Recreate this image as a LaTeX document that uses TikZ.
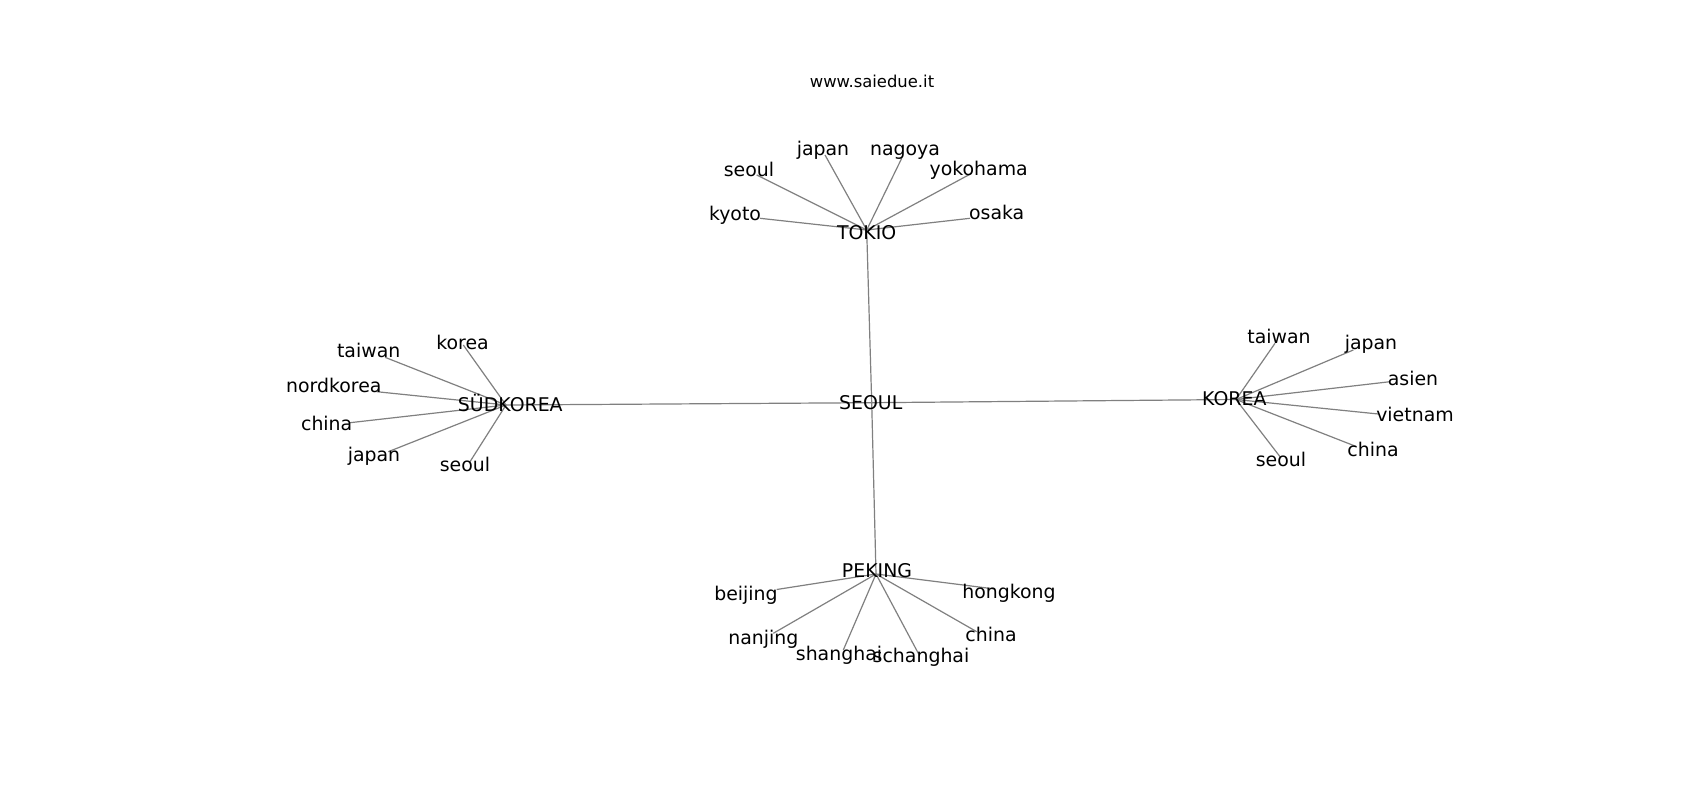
\documentclass[tikz,border=0pt]{standalone}
\usepackage{fontspec}
\setmainfont{DejaVu Sans}
\definecolor{edgegray}{RGB}{128,128,128}
\begin{document}
\begin{tikzpicture}[x=1pt,y=-1pt,
  lbl/.style={anchor=base,inner sep=0pt,font=\fontsize{18.9}{20}\selectfont},
  ttl/.style={anchor=base,inner sep=0pt,font=\fontsize{16.4}{18}\selectfont},
  edge/.style={draw=edgegray,line width=1.2pt}]
\useasboundingbox[fill=white] (0,0) rectangle (1700,800);
% hubs
\coordinate (T) at (866.7,230);
\coordinate (S) at (871.7,402.7);
\coordinate (D) at (506,405);
\coordinate (K) at (1236,399.5);
\coordinate (P) at (876,574);
% leaf edge ends
\coordinate (T1) at (756.7,175);
\coordinate (T2) at (825,155);
\coordinate (T3) at (901.7,158.3);
\coordinate (T4) at (971.7,173.3);
\coordinate (T5) at (760,218.3);
\coordinate (T6) at (970,218.3);
\coordinate (D1) at (463.3,345);
\coordinate (D2) at (385,357.3);
\coordinate (D3) at (376.7,391.7);
\coordinate (D4) at (350,422.7);
\coordinate (D5) at (388.3,451.7);
\coordinate (D6) at (470,461.7);
\coordinate (K1) at (1275,343.3);
\coordinate (K2) at (1353.3,350);
\coordinate (K3) at (1390,381.7);
\coordinate (K4) at (1378.3,414);
\coordinate (K5) at (1356.7,446.7);
\coordinate (K6) at (1280,456.7);
\coordinate (P1) at (776.7,589.5);
\coordinate (P2) at (995,589);
\coordinate (P3) at (773.3,633.3);
\coordinate (P4) at (976.7,631.7);
\coordinate (P5) at (843.3,650);
\coordinate (P6) at (918.3,653.3);
% edges
\draw[edge] (T) -- (S);
\draw[edge] (S) -- (P);
\draw[edge] (S) -- (D);
\draw[edge] (S) -- (K);
\foreach \i in {1,...,6} {
  \draw[edge] (T) -- (T\i);
  \draw[edge] (D) -- (D\i);
  \draw[edge] (K) -- (K\i);
  \draw[edge] (P) -- (P\i);
}
% labels
\node[ttl] (title) at (872,87.3) {www.saiedue.it};
\node[lbl] (tokio) at (866.7,239.5) {TOKIO};
\node[lbl] (seoulhub) at (870.7,409.3) {SEOUL};
\node[lbl] (suedkorea) at (510.3,411.7) {SÜDKOREA};
\node[lbl] (korea) at (1234.3,405) {KOREA};
\node[lbl] (peking) at (877,577.7) {PEKING};
\node[lbl] (t1) at (749,176) {seoul};
\node[lbl] (t2) at (823,155) {japan};
\node[lbl] (t3) at (905,155) {nagoya};
\node[lbl] (t4) at (978.7,175) {yokohama};
\node[lbl] (t5) at (735,220) {kyoto};
\node[lbl] (t6) at (996.7,219) {osaka};
\node[lbl] (d1) at (462.5,349.3) {korea};
\node[lbl] (d2) at (368.7,357.3) {taiwan};
\node[lbl] (d3) at (333.8,392.7) {nordkorea};
\node[lbl] (d4) at (326.7,430) {china};
\node[lbl] (d5) at (374,461.7) {japan};
\node[lbl] (d6) at (465,471.7) {seoul};
\node[lbl] (k1) at (1279,343.3) {taiwan};
\node[lbl] (k2) at (1371,349.3) {japan};
\node[lbl] (k3) at (1413,385) {asien};
\node[lbl] (k4) at (1415,421.7) {vietnam};
\node[lbl] (k5) at (1373,456.7) {china};
\node[lbl] (k6) at (1281,466.7) {seoul};
\node[lbl] (p1) at (746,600) {beijing};
\node[lbl] (p2) at (1009,598.3) {hongkong};
\node[lbl] (p3) at (763.3,644) {nanjing};
\node[lbl] (p4) at (991,641.7) {china};
\node[lbl] (p5) at (839,660) {shanghai};
\node[lbl] (p6) at (921,662.3) {schanghai};
\end{tikzpicture}
\end{document}
